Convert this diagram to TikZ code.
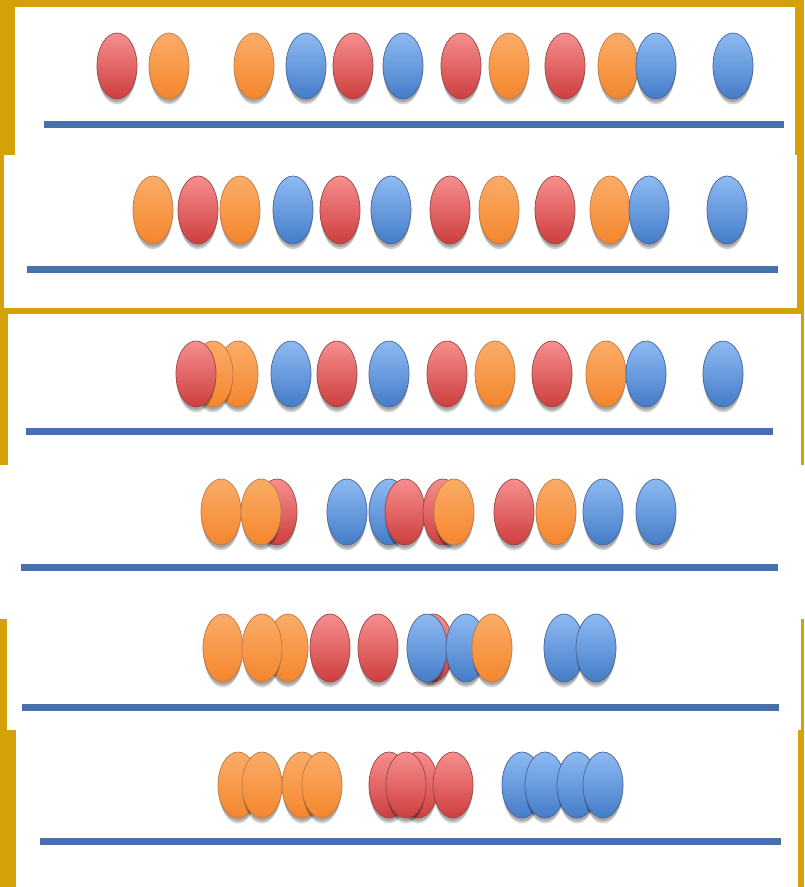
\documentclass[tikz,border=0pt]{standalone}
\usetikzlibrary{shadows}

\definecolor{gold}{RGB}{213,161,8}
\definecolor{redtop}{RGB}{247,142,142}
\definecolor{redbot}{RGB}{206,62,62}
\definecolor{redline}{RGB}{150,70,70}
\definecolor{orangetop}{RGB}{251,172,104}
\definecolor{orangebot}{RGB}{244,134,44}
\definecolor{orangeline}{RGB}{190,120,70}
\definecolor{bluetop}{RGB}{142,186,243}
\definecolor{bluebot}{RGB}{68,124,200}
\definecolor{blueline}{RGB}{70,100,150}
\definecolor{barblue}{RGB}{70,113,172}

\begin{document}
\begin{tikzpicture}[x=1pt,y=-1pt,
  bead/.style={top color=#1top, bottom color=#1bot, draw=#1line, line width=0.7pt,
    drop shadow={shadow xshift=0pt, shadow yshift=-3pt, opacity=0.18, fill=black},
    drop shadow={shadow xshift=0pt, shadow yshift=-7pt, shadow scale=0.95, opacity=0.13, fill=black},
    drop shadow={shadow xshift=0pt, shadow yshift=-10pt, shadow scale=0.9, opacity=0.07, fill=black}},
  bar/.style={line width=7pt, barblue}]

\useasboundingbox (0,0) rectangle (804,887);

% Background and pasted panels
\fill[gold] (0,0) rectangle (804,887);
\fill[white] (15,7) rectangle (795,155);
\fill[white] (4,155) rectangle (797,308);
\fill[white] (8,314) rectangle (801,465);
\fill[white] (0,465) rectangle (804,619);
\fill[white] (7,619) rectangle (801,730);
\fill[white] (16,730) rectangle (798,887);

% Row 1
\foreach \c/\x in {red/117, orange/169, orange/254, blue/306, red/353, blue/403,
                   red/461, orange/509, red/565, orange/618, blue/656, blue/733}
  \path[bead=\c] (\x,66) ellipse (20 and 33);
\draw[bar] (44,124.5) -- (784,124.5);

% Row 2
\foreach \c/\x in {orange/153, red/198, orange/240, blue/293, red/340, blue/391,
                   red/450, orange/499, red/555, orange/610, blue/649, blue/727}
  \path[bead=\c] (\x,210) ellipse (20 and 34);
\draw[bar] (27,269) -- (778,269);

% Row 3
\foreach \c/\x in {orange/238, orange/213, red/196, blue/291, red/337, blue/389,
                   red/447, orange/495, red/552, orange/606, blue/646, blue/723}
  \path[bead=\c] (\x,374) ellipse (20 and 33);
\draw[bar] (26,431) -- (773,431);

% Row 4
\foreach \c/\x in {orange/221, red/277, orange/261, blue/347, blue/389, red/405,
                   red/443, orange/454, red/514, orange/556, blue/603, blue/656}
  \path[bead=\c] (\x,512) ellipse (20 and 33);
\draw[bar] (21,567) -- (778,567);

% Row 5
\foreach \c/\x in {orange/223, orange/288, orange/262, red/330, red/378, red/433,
                   blue/427, blue/466, orange/492, blue/564, blue/596}
  \path[bead=\c] (\x,648) ellipse (20 and 34);
\draw[bar] (22,707) -- (779,707);

% Row 6
\foreach \c/\x in {orange/238, orange/262, orange/302, orange/322,
                   red/389, red/418, red/406, red/453,
                   blue/522, blue/545, blue/577, blue/603}
  \path[bead=\c] (\x,785) ellipse (20 and 33);
\draw[bar] (40,841) -- (781,841);

\end{tikzpicture}
\end{document}
